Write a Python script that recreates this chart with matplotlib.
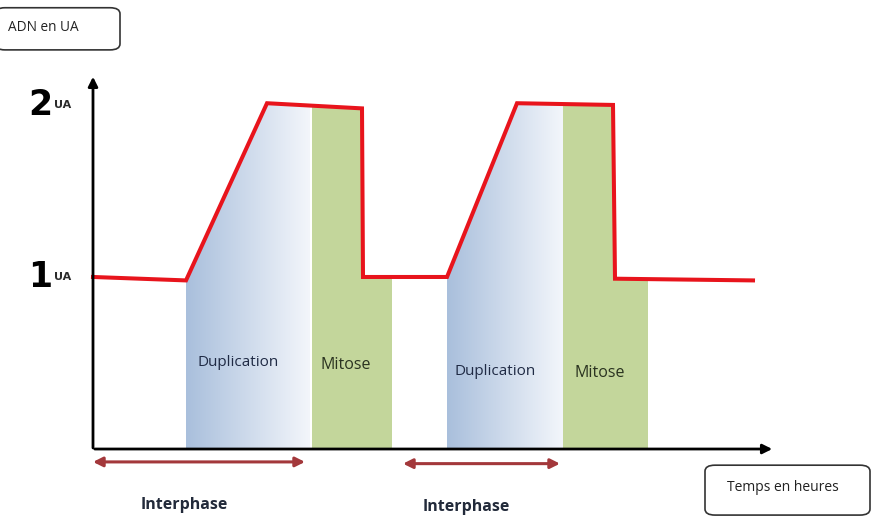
import numpy as np
import matplotlib
matplotlib.use("Agg")
import matplotlib.pyplot as plt
from matplotlib.patches import FancyBboxPatch

# time (hours, arbitrary) and DNA quantity (UA)
time_pts = [0, 9.3, 17.4, 26.9, 27.0, 35.4, 42.4, 52.0, 52.2, 66.0]
adn_pts = [1.0, 0.98, 2.01, 1.98, 1.0, 1.0, 2.01, 2.0, 0.99, 0.98]

duplication = [(9.3, 21.7), (35.4, 47.0)]
mitose = [(21.9, 29.9), (47.0, 55.5)]
interphase = [(0, 21.2), (31.0, 46.7)]

x_end, y_end = 68.2, 2.18

fig = plt.figure(figsize=(8.73, 5.18), dpi=100)
ax = fig.add_axes([0, 0, 1, 1])
ax.set_xlim(-9.3, 78.0)
ax.set_ylim(-0.401, 2.610)
ax.axis("off")

t = np.array(time_pts)
a = np.array(adn_pts)

def under_curve(x0, x1):
    xs = np.linspace(x0, x1, 200)
    return xs, np.interp(xs, t, a)

# blue gradient for duplication
grad = np.linspace(0, 1, 256).reshape(1, -1)
cmap = matplotlib.colors.LinearSegmentedColormap.from_list("dup", ["#a9bfdc", "#f3f6fb"])
for x0, x1 in duplication:
    xs, ys = under_curve(x0, x1)
    poly = ax.fill_between(xs, 0, ys, facecolor="none", edgecolor="none")
    im = ax.imshow(grad, extent=[x0, x1, 0, 2.05], aspect="auto", cmap=cmap,
                   origin="lower", zorder=1)
    im.set_clip_path(poly.get_paths()[0], transform=ax.transData)

for x0, x1 in mitose:
    xs, ys = under_curve(x0, x1)
    ax.fill_between(xs, 0, ys, facecolor="#c3d69b", edgecolor="none", zorder=1)

ax.plot(t, a, color="#e8141c", lw=2.9, zorder=3, solid_joinstyle="miter")

# axes arrows
ax.annotate("", xy=(x_end, 0), xytext=(-0.1, 0),
            arrowprops=dict(arrowstyle="-|>", color="black", lw=2, mutation_scale=14), zorder=4)
ax.annotate("", xy=(0, y_end), xytext=(0, -0.01),
            arrowprops=dict(arrowstyle="-|>", color="black", lw=2, mutation_scale=14), zorder=4)

# interphase arrows
for (x0, x1), yy in zip(interphase, [-0.075, -0.085]):
    ax.annotate("", xy=(x1, yy), xytext=(x0, yy),
                arrowprops=dict(arrowstyle="<|-|>", color="#a3383b", lw=2.2,
                                mutation_scale=14, shrinkA=0, shrinkB=0))
    ax.text((x0 + x1) / 2 - 1.5, yy - 0.25, "Interphase", ha="center", va="center",
            fontsize=11.5, fontweight="bold", color="#222a3a", family="Open Sans")

lab_col = "#1f2a44"
for (x0, x1), yy in zip(duplication, [0.5, 0.45]):
    ax.text((x0 + x1) / 2 - 1.0, yy, "Duplication", ha="center", va="center",
            fontsize=11, color=lab_col, family="Open Sans")
for (x0, x1), yy in zip(mitose, [0.49, 0.44]):
    ax.text((x0 + x1) / 2 - 0.6, yy, "Mitose", ha="center", va="center",
            fontsize=11.5, color="#2a3320", family="Open Sans")

# level labels
for val in [1, 2]:
    ax.text(-4.1, val, str(val), ha="right", va="center", fontsize=25,
            fontweight="bold", color="black", family="DejaVu Sans")
    ax.text(-3.9, val + 0.0, "UA", ha="left", va="center", fontsize=8,
            fontweight="bold", color="#2b2b2b", family="DejaVu Sans")

# text boxes
box1 = FancyBboxPatch((-9.8, 2.32), 12.5, 0.245, boxstyle="round,pad=0,rounding_size=1.0",
                      mutation_aspect=0.035, facecolor="white", edgecolor="#333333", lw=1.2)
ax.add_patch(box1)
ax.text(-5.0, 2.448, "ADN en UA", ha="center", va="center", fontsize=9.8,
        color="#222222", family="Open Sans")

box2 = FancyBboxPatch((61.2, -0.384), 16.5, 0.29, boxstyle="round,pad=0,rounding_size=1.0",
                      mutation_aspect=0.035, facecolor="white", edgecolor="#333333", lw=1.2)
ax.add_patch(box2)
ax.text(69.0, -0.222, "Temps en heures", ha="center", va="center", fontsize=10,
        color="#222222", family="Open Sans")

fig.savefig("out.png", dpi=100)
